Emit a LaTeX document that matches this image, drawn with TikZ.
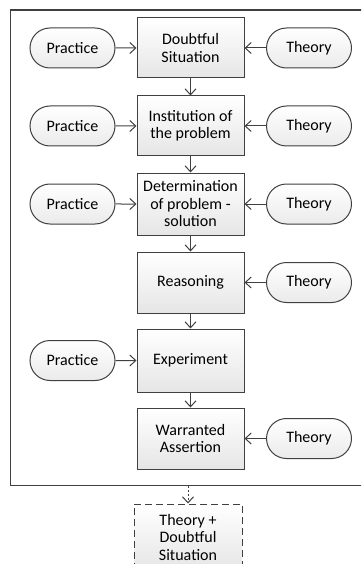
\documentclass[tikz,border=0pt]{standalone}
\usepackage{fontspec}
\setmainfont{Carlito}
\usetikzlibrary{arrows.meta,shapes.misc}
\definecolor{ln}{HTML}{404040}
\begin{document}
\begin{tikzpicture}[x=1pt,y=-1pt,
  every node/.style={font=\fontsize{16}{17.5}\selectfont, text=black},
  stepbox/.style={draw=ln, line width=1pt, top color=white, bottom color=black!10, minimum width=107pt, align=center, inner sep=0pt},
  pill/.style={draw=ln, line width=1pt, rounded rectangle, top color=white, bottom color=black!8, minimum width=85pt, minimum height=40pt, inner sep=0pt},
  arr/.style={draw=ln, line width=1pt, -{Straight Barb[length=6pt,width=11pt]}}]
\useasboundingbox (0,0) rectangle (361,564);
\clip (0,0) rectangle (361,564);
\node[draw=ln, line width=1.3pt, inner sep=0pt, minimum width=370pt, minimum height=475.5pt, anchor=north west] (frame) at (9.5,9.5) {};
% main steps
\node[stepbox, minimum height=60pt] (b1) at (190.5,48) {Doubtful\\Situation};
\node[stepbox, minimum height=60pt] (b2) at (190.5,126) {Institution of\\the problem};
\node[stepbox, minimum height=62pt] (b3) at (190.5,204) {Determination\\of problem -\\solution};
\node[stepbox, minimum height=61pt] (b4) at (190.5,282.5) {Reasoning};
\node[stepbox, minimum height=63pt] (b5) at (190.5,360.5) {Experiment};
\node[stepbox, minimum height=61pt] (b6) at (190.5,438.5) {Warranted\\Assertion};
% practice
\node[pill] (p1) at (72.5,48) {Practice};
\node[pill] (p2) at (72.5,126) {Practice};
\node[pill] (p3) at (72.5,204) {Practice};
\node[pill] (p5) at (72.5,360.5) {Practice};
% theory
\node[pill] (t1) at (309,48) {Theory};
\node[pill] (t2) at (309,126) {Theory};
\node[pill] (t3) at (309,204) {Theory};
\node[pill] (t4) at (309,282.5) {Theory};
\node[pill] (t6) at (309,438.5) {Theory};
% dashed result
\node[stepbox, dash pattern=on 7pt off 4pt, minimum width=108pt, minimum height=66pt] (d) at (188,537) {Theory +\\Doubtful\\Situation};
% arrows
\foreach \a/\b in {b1/b2,b2/b3,b3/b4,b4/b5,b5/b6}
  \draw[arr] (\a) -- (\b);
\foreach \a/\b in {p1/b1,p2/b2,p3/b3,p5/b5,t1/b1,t2/b2,t3/b3,t4/b4,t6/b6}
  \draw[arr] (\a) -- (\b);
\coordinate (fb) at (d.north |- frame.south);
\draw[arr, dash pattern=on 2pt off 2pt] (fb) -- (d.north);
\end{tikzpicture}
\end{document}
